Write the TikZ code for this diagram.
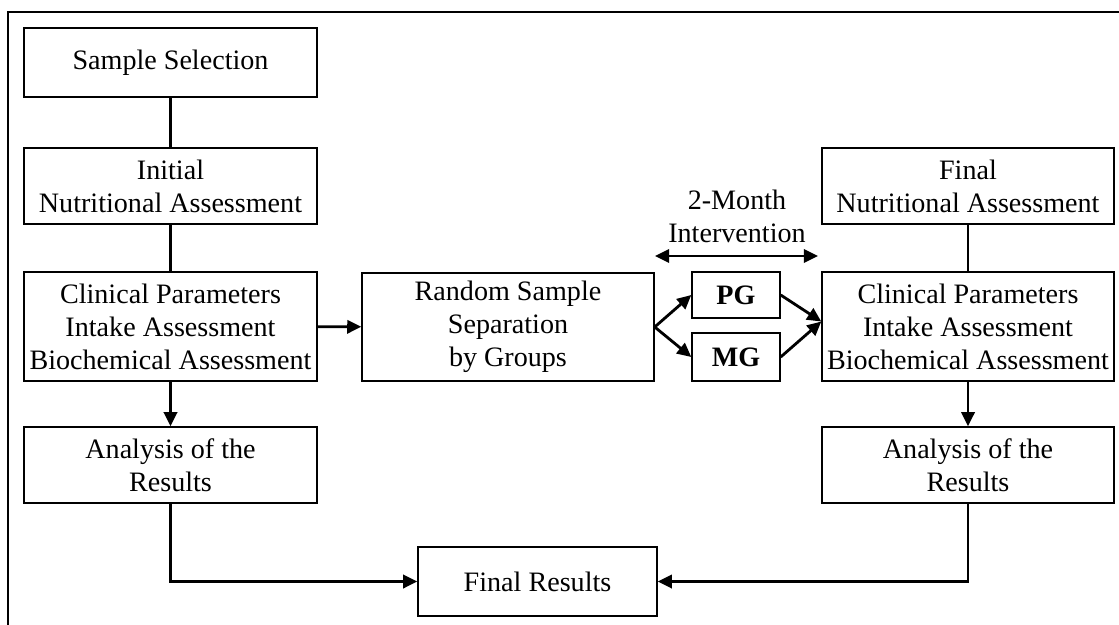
\documentclass[tikz,border=0pt]{standalone}
\usepackage{fontspec}
\setmainfont{Liberation Serif}
\usetikzlibrary{arrows.meta,calc}
\tikzset{
  box/.style={draw=black, line width=0.8pt, align=center, inner sep=0pt,
    font=\fontsize{16}{18.8}\selectfont},
  conn/.style={line width=1.6pt},
  arr/.style={conn, -{Triangle[length=8pt,width=7.5pt]}},
  darr/.style={conn, {Triangle[length=8pt,width=7.5pt]}-{Triangle[length=8pt,width=7.5pt]}},
}
\begin{document}
\begin{tikzpicture}[x=0.02cm,y=-0.02cm]
\useasboundingbox (0,0) rectangle (1119,625);
% frame (top and left edges only visible)
\draw[line width=1.3pt] (8,625) -- (8,12) -- (1119,12);

% left column
\node[box, minimum width=293*0.02cm, minimum height=69*0.02cm] (ss) at (170.5,62.5) {Sample Selection};
\node[box, minimum width=293*0.02cm, minimum height=76*0.02cm] (ini) at (170.5,186) {Initial\\Nutritional Assessment};
\node[box, minimum width=293*0.02cm, minimum height=109*0.02cm] (lc) at (170.5,326.5) {Clinical Parameters\\Intake Assessment\\Biochemical Assessment};
\node[box, minimum width=293*0.02cm, minimum height=76*0.02cm] (la) at (170.5,465) {Analysis of the\\Results};

% middle
\node[box, minimum width=292*0.02cm, minimum height=108*0.02cm] (rnd) at (508,327) {Random Sample\\Separation\\by Groups};
\node[box, minimum width=88*0.02cm, minimum height=46*0.02cm, font=\fontsize{16}{18.8}\selectfont\bfseries] (pg) at (736,295) {PG};
\node[box, minimum width=88*0.02cm, minimum height=48*0.02cm, font=\fontsize{16}{18.8}\selectfont\bfseries] (mg) at (736,357) {MG};
\node[align=center, font=\fontsize{16}{18.8}\selectfont, inner sep=0pt] (iv) at (737,216) {2-Month\\Intervention};
\coordinate (ivl) at (655,256);
\coordinate (ivr) at (818,256);

% right column
\node[box, minimum width=292*0.02cm, minimum height=76*0.02cm] (fn) at (968,186) {Final\\Nutritional Assessment};
\node[box, minimum width=292*0.02cm, minimum height=109*0.02cm] (rc) at (968,326.5) {Clinical Parameters\\Intake Assessment\\Biochemical Assessment};
\node[box, minimum width=292*0.02cm, minimum height=76*0.02cm] (ra) at (968,465) {Analysis of the\\Results};

% bottom
\node[box, minimum width=239*0.02cm, minimum height=69*0.02cm] (fr) at (537.5,581.5) {Final Results};

% connectors
\draw[conn] (ss) -- (ini);
\draw[conn] (ini) -- (lc);
\draw[arr] (lc) -- (la);
\draw[arr] (lc) -- (rnd);
\draw[arr] (rnd.east) -- (pg.west);
\draw[arr] (rnd.east) -- (mg.west);
\coordinate (rin) at ($(rc.west)+(0,-5)$);
\draw[arr] (pg.east) -- (rin);
\draw[arr] (mg.east) -- (rin);
\draw[darr] (ivl) -- (ivr);
\draw[conn] (fn) -- (rc);
\draw[arr] (rc) -- (ra);
\draw[arr] (la.south) |- (fr.west);
\draw[arr] (ra.south) |- (fr.east);
\end{tikzpicture}
\end{document}
